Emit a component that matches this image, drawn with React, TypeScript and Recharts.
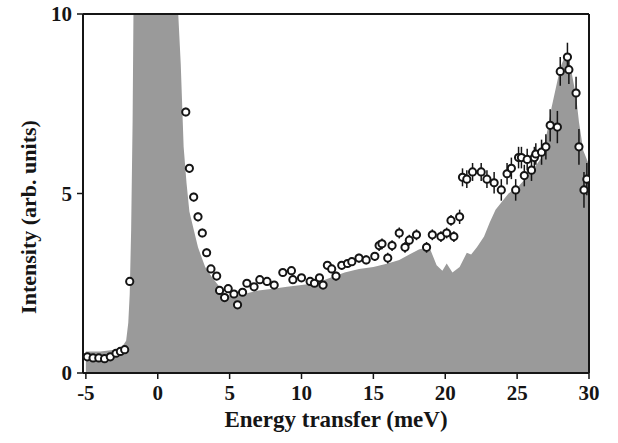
import React from "react";
import {
  Area,
  ComposedChart,
  ErrorBar,
  Label,
  ReferenceLine,
  Scatter,
  XAxis,
  YAxis,
} from "recharts";

// calculated spectrum (grey fill)
const modelX = [
  -5, -4, -3, -2.5, -2.2, -2.05, -1.95, -1.85, -1.75, -1.68, -1.4, -1, 0, 0.8, 1.2, 1.4, 1.6, 1.8,
  2.0, 2.2, 2.5, 2.8, 3.3, 3.8, 4.1, 4.6, 5, 5.5, 6, 7, 8, 9, 10, 11, 12, 13, 14, 15, 16, 16.8,
  17.5, 18.2, 18.9, 19.4, 19.8, 20.1, 20.5, 21.0, 21.5, 21.8, 22.2, 22.7, 23.1, 23.5, 23.9, 24.4,
  25.1, 26.0, 26.7, 27.1, 27.4, 27.7, 28.0, 28.4, 28.8, 29.1, 29.3, 29.6, 30,
];
const modelY = [
  0.6, 0.6, 0.65, 0.72, 0.9, 1.4, 2.2, 4, 7, 10.5, 18, 35, 60, 30, 14, 10.2, 8.6, 6.3,
  5.3, 4.5, 4.0, 3.5, 2.95, 2.65, 2.5, 2.25, 2.15, 2.15, 2.2, 2.3, 2.35, 2.4, 2.45, 2.5, 2.65, 2.8, 2.9, 2.95, 3.05, 3.15,
  3.3, 3.45, 3.5, 3.0, 2.85, 3.05, 2.8, 2.95, 3.35, 3.3, 3.5, 3.8, 4.2, 4.55, 4.75, 5.0,
  5.2, 5.6, 6.0, 6.75, 7.4, 7.95, 8.5, 8.9, 8.35, 7.7, 7.0, 6.2, 5.8,
];

// measured points
const pointX = [
  -4.9, -4.5, -4.1, -3.7, -3.3, -2.9, -2.6, -2.3, -1.95,
  1.95, 2.2, 2.5, 2.8, 3.1, 3.4, 3.7, 4.1, 4.3, 4.65, 4.9, 5.3, 5.55, 5.9, 6.2, 6.7, 7.1, 7.6,
  8.1, 8.7, 9.3, 9.4, 10.0, 10.6, 10.9, 11.25, 11.5, 11.8, 12.1, 12.4, 12.8, 13.2, 13.5, 14.0,
  14.5, 15.1, 15.4, 15.6, 16.0, 16.3, 16.8, 17.2, 17.5, 18.0, 18.7, 19.1, 19.7, 20.1, 20.4,
  20.6, 21.0, 21.2, 21.5, 21.9, 22.5, 22.9, 23.4, 23.9, 24.3, 24.6, 24.9, 25.1, 25.3, 25.5,
  25.7, 26.0, 26.2, 26.3, 26.7, 27.0, 27.3, 27.8, 28.0, 28.5, 28.6, 29.1, 29.3, 29.65, 29.85,
];
const pointY = [
  0.45, 0.42, 0.42, 0.4, 0.45, 0.55, 0.6, 0.65, 2.55,
  7.27, 5.7, 4.9, 4.35, 3.9, 3.35, 2.9, 2.7, 2.3, 2.1, 2.35, 2.2, 1.9, 2.25, 2.5, 2.4, 2.6, 2.55,
  2.45, 2.8, 2.85, 2.6, 2.65, 2.55, 2.5, 2.65, 2.45, 3.0, 2.9, 2.7, 3.0, 3.05, 3.1, 3.2,
  3.15, 3.25, 3.55, 3.6, 3.2, 3.55, 3.9, 3.5, 3.7, 3.85, 3.5, 3.85, 3.8, 3.9, 4.25,
  3.8, 4.35, 5.45, 5.4, 5.6, 5.6, 5.4, 5.3, 5.1, 5.55, 5.7, 5.1, 6.0, 6.0, 5.5,
  5.95, 5.65, 6.0, 6.1, 6.15, 6.3, 6.9, 6.85, 8.4, 8.8, 8.45, 7.8, 6.3, 5.1, 5.4,
];
const pointErr = [
  0.08, 0.08, 0.08, 0.08, 0.08, 0.08, 0.08, 0.08, 0.1,
  0.12, 0.12, 0.12, 0.12, 0.12, 0.12, 0.1, 0.1, 0.1, 0.1, 0.1, 0.1, 0.1, 0.1, 0.1, 0.1, 0.1, 0.1,
  0.1, 0.1, 0.1, 0.1, 0.1, 0.1, 0.1, 0.1, 0.1, 0.12, 0.12, 0.12, 0.12, 0.12, 0.12, 0.12,
  0.12, 0.12, 0.15, 0.15, 0.15, 0.15, 0.15, 0.15, 0.15, 0.15, 0.15, 0.15, 0.15, 0.15, 0.15,
  0.15, 0.2, 0.25, 0.25, 0.25, 0.25, 0.25, 0.3, 0.3, 0.3, 0.3, 0.3, 0.3, 0.3, 0.3,
  0.3, 0.3, 0.3, 0.3, 0.35, 0.35, 0.45, 0.45, 0.4, 0.4, 0.4, 0.45, 0.5, 0.5, 0.45,
];

const xTicks = [-5, 0, 5, 10, 15, 20, 25, 30];
const yTicks = [0, 5, 10];

const model = modelX.map((x, i) => ({ x, y: modelY[i] }));
const points = pointX.map((x, i) => ({ x, y: pointY[i], err: pointErr[i] }));

const font = "'Liberation Serif', 'DejaVu Serif', serif";
const ink = "#151515";

function Dot(props: any) {
  const { cx, cy } = props;
  if (cx == null || cy == null) return null;
  return <circle cx={cx} cy={cy} r={3.6} fill="#fff" stroke={ink} strokeWidth={2} />;
}

function YTitle() {
  return (
    <text
      x={28}
      y={217}
      transform="rotate(-90, 28, 217)"
      textAnchor="middle"
      dominantBaseline="central"
      fontFamily={font}
      fontSize={22}
      fontWeight="bold"
      fill={ink}
    >
      Intensity (arb. units)
    </text>
  );
}

export default function App() {
  return (
    <div style={{ position: "absolute", left: 0, top: 0, width: 618, height: 443, background: "#fff" }}>
      <ComposedChart width={618} height={443} margin={{ top: 14, right: 29, bottom: 0, left: 0 }}>
        <XAxis
          dataKey="x"
          type="number"
          domain={[-5.2, 30]}
          ticks={xTicks}
          allowDataOverflow
          height={70}
          tickSize={6}
          tickMargin={6}
          tick={{ fill: ink, fontSize: 21, fontFamily: font, fontWeight: "bold" }}
          axisLine={{ stroke: ink, strokeWidth: 2 }}
          tickLine={{ stroke: ink, strokeWidth: 1.5 }}
        >
          <Label
            value="Energy transfer (meV)"
            position="insideBottom"
            offset={16}
            fill={ink}
            fontSize={23}
            fontWeight="bold"
            fontFamily={font}
          />
        </XAxis>
        <YAxis
          type="number"
          domain={[0, 10]}
          ticks={yTicks}
          allowDataOverflow
          width={83}
          tickSize={6}
          tickMargin={5}
          tick={{ fill: ink, fontSize: 21, fontFamily: font, fontWeight: "bold" }}
          axisLine={{ stroke: ink, strokeWidth: 2 }}
          tickLine={{ stroke: ink, strokeWidth: 1.5 }}
          label={<YTitle />}
        />
        <Area
          data={model}
          dataKey="y"
          type="linear"
          fill="#9a9a9a"
          fillOpacity={1}
          stroke="none"
          baseValue={0}
          dot={false}
          activeDot={false}
          isAnimationActive={false}
        />
        <Scatter data={points} dataKey="y" shape={<Dot />} isAnimationActive={false}>
          <ErrorBar dataKey="err" direction="y" width={0} stroke={ink} strokeWidth={1.5} />
        </Scatter>
        <ReferenceLine y={10} stroke={ink} strokeWidth={2} />
        <ReferenceLine x={30} stroke={ink} strokeWidth={2} />
      </ComposedChart>
    </div>
  );
}
